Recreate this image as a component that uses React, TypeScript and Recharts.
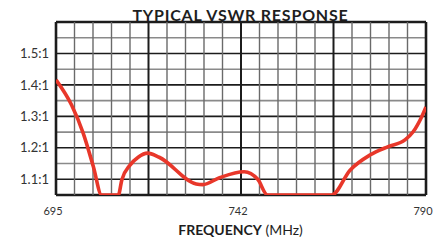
import { Line, LineChart, ReferenceLine, XAxis, YAxis } from "recharts";

const freq = [695, 699, 702, 704.6, 706.7, 711, 711.9, 714, 716.1, 718.5, 721.5, 731, 732.7, 737, 743.3, 746.8, 749.3, 765.8, 770.5, 775.6, 780.3, 784.6, 786.7, 788.9, 790];
const vswr = [1.416, 1.336, 1.246, 1.14, 1.05, 1.05, 1.098, 1.145, 1.17, 1.183, 1.17, 1.085, 1.083, 1.105, 1.124, 1.1, 1.05, 1.05, 1.129, 1.177, 1.204, 1.225, 1.251, 1.299, 1.33];
const xTicks = [695, 742.5, 790];
const yTicks = [1.1, 1.2, 1.3, 1.4, 1.5];
const xDomain = [695, 790];
const yDomain = [1.05, 1.6];

const data = freq.map((f, i) => ({ f, v: vswr[i] }));

// grid: 20 columns, 11 rows
const cols = Array.from({ length: 21 }, (_, i) => Math.round((695 + i * 4.75) * 100) / 100);
const rows = Array.from({ length: 12 }, (_, i) => Math.round((1.05 + i * 0.05) * 100) / 100);

const font = "Lato, 'Open Sans', sans-serif";

export default function App() {
  return (
    <div style={{ position: "absolute", left: 0, top: 0, width: 438, height: 241, background: "#fff", fontFamily: font }}>
      <div style={{ position: "absolute", left: 90, top: 7.3, width: 301, textAlign: "center", fontSize: 16, lineHeight: "16px", fontWeight: 700, letterSpacing: 0.8, color: "#1e1e1e" }}>
        TYPICAL VSWR RESPONSE
      </div>
      <div style={{ position: "absolute", left: 90, top: 223, width: 301, textAlign: "center", fontSize: 14, lineHeight: "14px", color: "#1e1e1e" }}>
        <span style={{ fontWeight: 700 }}>FREQUENCY</span> (MHz)
      </div>
      <div style={{ position: "absolute", left: 0, top: 0 }}>
        <LineChart width={438} height={241} data={data} margin={{ top: 22, right: 12, bottom: 0, left: 6 }}>
          <XAxis
            type="number"
            dataKey="f"
            domain={xDomain}
            ticks={xTicks}
            allowDataOverflow
            height={46}
            axisLine={false}
            tickLine={false}
            tickSize={0}
            tickMargin={12}
            dx={-3}
            tickFormatter={(v: number) => String(Math.floor(v))}
            tick={{ fontSize: 11, fill: "#333", fontFamily: font }}
          />
          <YAxis
            type="number"
            domain={yDomain}
            ticks={yTicks}
            allowDataOverflow
            width={50}
            axisLine={false}
            tickLine={false}
            tickSize={0}
            tickMargin={7}
            tickFormatter={(v: number) => `${v.toFixed(1)}:1`}
            tick={{ fontSize: 13, fill: "#333", fontFamily: font }}
          />
          {rows.map((r, i) => {
            const edge = i === 0 || i === rows.length - 1;
            const major = i % 2 === 1;
            return (
              <ReferenceLine
                key={"r" + i}
                y={r}
                stroke={edge || major ? "#1c1c1c" : "#8a8a8a"}
                strokeWidth={edge ? 2.6 : 1.6}
              />
            );
          })}
          {cols.map((c, i) => {
            const edge = i === 0 || i === cols.length - 1;
            const major = i % 5 === 0;
            return (
              <ReferenceLine
                key={"c" + i}
                x={c}
                stroke={edge || major ? "#1c1c1c" : "#6a6a6a"}
                strokeWidth={edge ? 2.6 : major ? 2 : 1.4}
              />
            );
          })}
          <Line
            type="monotone"
            dataKey="v"
            stroke="#e8372a"
            strokeWidth={3.6}
            dot={false}
            isAnimationActive={false}
          />
        </LineChart>
      </div>
    </div>
  );
}
